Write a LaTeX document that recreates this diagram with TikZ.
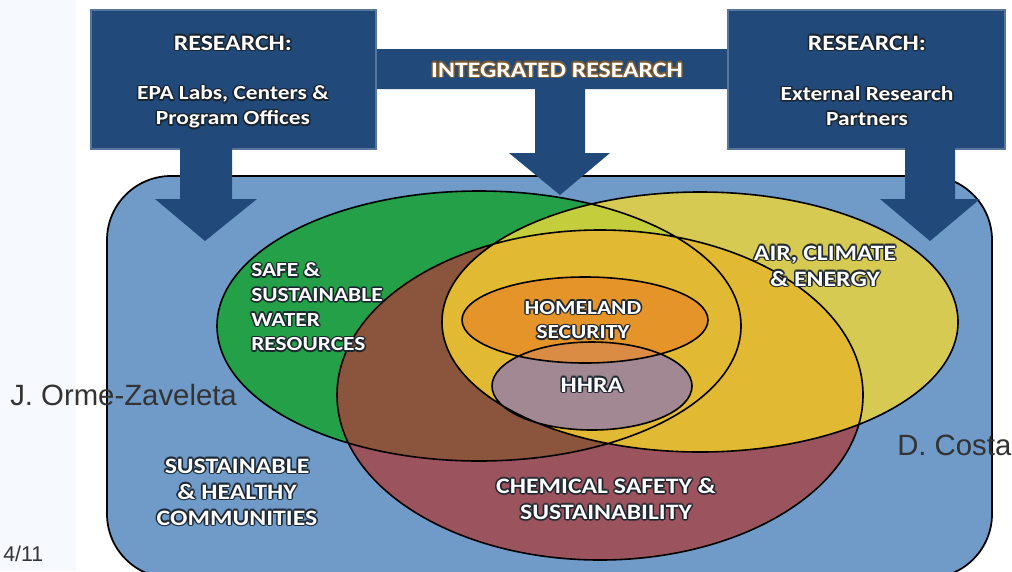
\documentclass[tikz,border=0pt]{standalone}
\usepackage{fontspec}
\setmainfont{Carlito}
\newfontfamily\lblfont[FakeStretch=1.17]{Carlito}
\newfontfamily\notefont{Liberation Sans}
\usetikzlibrary{calc}

\definecolor{navy}{RGB}{33,73,122}
\definecolor{areablue}{RGB}{112,155,201}
\definecolor{water}{RGB}{35,160,72}
\definecolor{air}{RGB}{215,202,82}
\definecolor{waterair}{RGB}{196,206,60}
\definecolor{chem}{RGB}{155,84,94}
\definecolor{waterchem}{RGB}{139,84,60}
\definecolor{airchem}{RGB}{226,185,50}
\definecolor{homeland}{RGB}{229,148,42}
\definecolor{hhra}{RGB}{161,136,146}
\definecolor{homehhra}{RGB}{218,140,68}
\definecolor{shade}{RGB}{25,35,45}
\definecolor{tan}{RGB}{125,92,50}
\definecolor{strip}{RGB}{246,250,254}

\tikzset{
  lbl/.style={font=\lblfont\bfseries\fontsize{15}{18.5}\selectfont, text=white, align=center, inner sep=0pt},
  biglbl/.style={lbl, font=\lblfont\bfseries\fontsize{16.5}{19.5}\selectfont},
  outline/.style={draw=black, line width=1.2pt},
  boxedge/.style={draw=navy!75!white, line width=0.8pt},
  note/.style={font=\notefont\fontsize{22}{26}\selectfont, text=black!80, inner sep=0pt, anchor=west}
}

% white text with a soft dark halo
\newcommand\glowlabel[5][shade]{%
  \foreach \a in {0,30,...,330}
    \node[#2, text=#1, opacity=0.6] at ($(#4)+(\a:1.2pt)$) {#5};
  \node[#2] (#3) at (#4) {#5};
}

\begin{document}
\begin{tikzpicture}[x=0.75pt, y=-0.75pt]
  \useasboundingbox (0,0) rectangle (1012,571);
  \clip (0,0) rectangle (1012,571);
  \fill[white] (0,0) rectangle (1012,571);
  \fill[strip] (0,0) rectangle (76,571);

  \draw[fill=areablue, line width=1.3pt, rounded corners=48pt] (107,176) rectangle (992,578);

  \def\watershape{(479,326) ellipse [x radius=262, y radius=135]}
  \def\airshape{(700,322) ellipse [x radius=258, y radius=130]}
  \def\chemshape{(600,395) ellipse [x radius=263, y radius=165]}
  \def\homeshape{(585,320) ellipse [x radius=123, y radius=43]}
  \def\hhrashape{(592,386) ellipse [x radius=100, y radius=44]}

  \fill[water] \watershape;
  \fill[air] \airshape;
  \begin{scope}
    \clip \watershape;
    \fill[waterair] \airshape;
  \end{scope}
  \fill[chem] \chemshape;
  \begin{scope}
    \clip \chemshape;
    \fill[waterchem] \watershape;
    \fill[airchem] \airshape;
  \end{scope}
  \fill[hhra] \hhrashape;
  \fill[homeland] \homeshape;
  \begin{scope}
    \clip \homeshape;
    \fill[homehhra] \hhrashape;
  \end{scope}
  \draw[outline] \watershape \airshape \chemshape \homeshape \hhrashape;

  % research boxes, bar and arrows
  \fill[navy] (91,10) rectangle (376,149) (728,10) rectangle (1005,149) (376,49) rectangle (728,89);
  \draw[boxedge] (91,10) rectangle (376,149);
  \draw[boxedge] (728,10) rectangle (1005,149);
  \fill[navy] (180,148) |- (155,199) -- (205,241) -- (257,199) -| (232,148) -- cycle;
  \fill[navy] (535,88) |- (509,153) -- (560,195) -- (610,153) -| (585,88) -- cycle;
  \fill[navy] (905,148) |- (880,199) -- (930,241) -- (980,199) -| (955,148) -- cycle;

  \glowlabel{biglbl}{resL}{233,43}{RESEARCH:}
  \glowlabel{lbl}{epa}{233,107}{EPA Labs, Centers \&\\Program Offices}
  \glowlabel{biglbl}{resR}{867,43}{RESEARCH:}
  \glowlabel{lbl}{partners}{867,106}{External Research\\Partners}
  \glowlabel[tan]{biglbl}{integ}{557,70}{INTEGRATED RESEARCH}

  \glowlabel{lbl, anchor=west, align=left}{waterlbl}{251,307}{SAFE \&\\SUSTAINABLE\\WATER\\RESOURCES}
  \glowlabel{biglbl}{airlbl}{825,266}{AIR, CLIMATE\\\& ENERGY}
  \glowlabel{lbl}{homelbl}{583,320}{HOMELAND\\SECURITY}
  \glowlabel{biglbl}{hhralbl}{592,385}{HHRA}
  \glowlabel{biglbl}{chemlbl}{606,499}{CHEMICAL SAFETY \&\\SUSTAINABILITY}
  \glowlabel{biglbl}{commlbl}{237,492}{SUSTAINABLE\\\& HEALTHY\\COMMUNITIES}

  \node[note] (orme) at (10,395) {J. Orme-Zaveleta};
  \node[note] (costa) at (897,445) {D. Costa};
  \node[note, font=\notefont\fontsize{16}{19}\selectfont] (page) at (3,554) {4/11};
\end{tikzpicture}
\end{document}
